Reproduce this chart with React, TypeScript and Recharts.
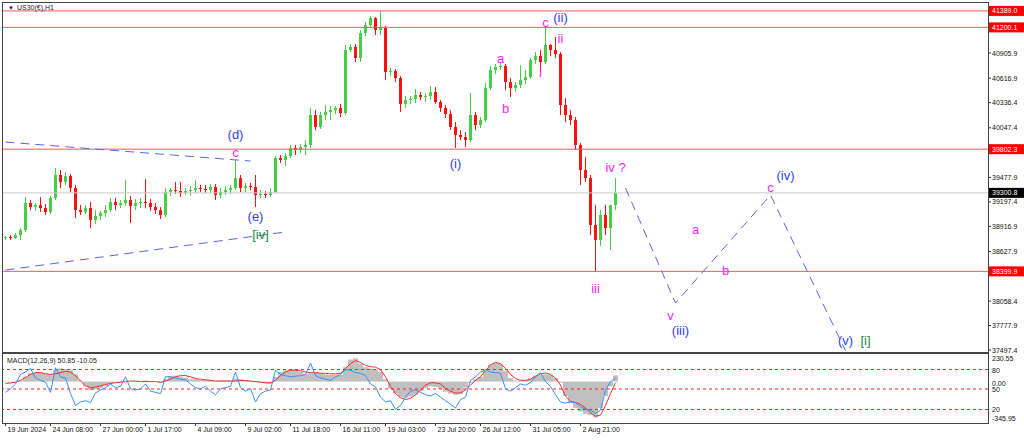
import React from 'react';
import { ComposedChart, Bar, Line, XAxis, YAxis, ReferenceLine, ReferenceDot } from 'recharts';

// US30 H1 candles, [open, high, low, close]
const candles: number[][] = [
  [38783, 38806, 38760, 38794], [38794, 38817, 38760, 38783], [38783, 38840, 38771, 38817], [38817, 38898, 38760, 38875],
  [38875, 39253, 38852, 39184], [39184, 39219, 39104, 39138], [39138, 39184, 39093, 39161], [39161, 39253, 39081, 39127],
  [39127, 39173, 39047, 39081], [39081, 39265, 39058, 39242], [39242, 39586, 39219, 39506], [39506, 39563, 39357, 39425],
  [39425, 39540, 39391, 39494], [39494, 39517, 39311, 39357], [39357, 39391, 39012, 39104], [39104, 39161, 39047, 39081],
  [39081, 39161, 39058, 39127], [39127, 39196, 38898, 38989], [38989, 39104, 38943, 39035], [39035, 39093, 38989, 39070],
  [39070, 39161, 39024, 39104], [39104, 39242, 39081, 39196], [39196, 39242, 39104, 39161], [39161, 39219, 39127, 39184],
  [39184, 39448, 39150, 39219], [39219, 39265, 38955, 39150], [39150, 39230, 39104, 39184], [39184, 39242, 39127, 39196],
  [39196, 39460, 39127, 39184], [39184, 39230, 39093, 39138], [39138, 39184, 39058, 39104], [39104, 39138, 39001, 39047],
  [39047, 39357, 39024, 39311], [39311, 39357, 39265, 39334], [39334, 39425, 39288, 39322], [39322, 39425, 39253, 39299],
  [39299, 39357, 39276, 39322], [39322, 39379, 39265, 39334], [39334, 39448, 39299, 39357], [39357, 39391, 39311, 39345],
  [39345, 39391, 39299, 39334], [39334, 39402, 39299, 39368], [39368, 39402, 39219, 39276], [39276, 39357, 39242, 39311],
  [39311, 39379, 39276, 39334], [39334, 39391, 39288, 39357], [39357, 39678, 39334, 39471], [39471, 39506, 39311, 39357],
  [39357, 39414, 39311, 39379], [39379, 39414, 39334, 39368], [39368, 39506, 39138, 39276], [39276, 39334, 39242, 39288],
  [39288, 39322, 39242, 39276], [39276, 39357, 39253, 39311], [39311, 39724, 39299, 39701], [39701, 39735, 39643, 39678],
  [39678, 39758, 39609, 39724], [39724, 39850, 39701, 39816], [39816, 39850, 39735, 39793], [39793, 39861, 39758, 39827],
  [39827, 39907, 39735, 39850], [39850, 40275, 39816, 40194], [40194, 40252, 40022, 40057], [40057, 40229, 40034, 40194],
  [40194, 40309, 40137, 40229], [40229, 40298, 40137, 40252], [40252, 40298, 40206, 40275], [40275, 40321, 40171, 40217],
  [40217, 40998, 40194, 40940], [40940, 41009, 40917, 40975], [40975, 41009, 40802, 40848], [40848, 41170, 40802, 41135],
  [41135, 41262, 41101, 41227], [41227, 41330, 41193, 41307], [41307, 41319, 41112, 41170], [41170, 41385, 41112, 41193],
  [41193, 41216, 40596, 40688], [40688, 40734, 40642, 40699], [40699, 40722, 40573, 40619], [40619, 40642, 40229, 40321],
  [40321, 40412, 40275, 40366], [40366, 40412, 40321, 40378], [40378, 40493, 40332, 40424], [40424, 40458, 40366, 40401],
  [40401, 40447, 40343, 40412], [40412, 40527, 40366, 40458], [40458, 40516, 40321, 40343], [40343, 40366, 40229, 40275],
  [40275, 40309, 40160, 40206], [40206, 40252, 40022, 40057], [40057, 40114, 39816, 39965], [39965, 40022, 39907, 39942],
  [39942, 39999, 39827, 39907], [39907, 40447, 39884, 40194], [40194, 40229, 40022, 40079], [40079, 40171, 40045, 40137],
  [40137, 40562, 40114, 40504], [40504, 40757, 40481, 40711], [40711, 40780, 40665, 40745], [40745, 40802, 40711, 40757],
  [40757, 40780, 40481, 40573], [40573, 40619, 40401, 40504], [40504, 40573, 40458, 40539], [40539, 40768, 40504, 40596],
  [40596, 40711, 40550, 40630], [40630, 40848, 40607, 40825], [40825, 40917, 40780, 40871], [40871, 40940, 40688, 40802],
  [40802, 41200, 40780, 40998], [40998, 41009, 40871, 40940], [40940, 41089, 40848, 40894], [40894, 40917, 40194, 40309],
  [40309, 40389, 40114, 40194], [40194, 40252, 40079, 40137], [40137, 40171, 39793, 39850], [39850, 39873, 39391, 39563],
  [39563, 39712, 39425, 39471], [39471, 39506, 38817, 38932], [38932, 39161, 38400, 38760], [38760, 39104, 38691, 39047],
  [39047, 39161, 38817, 38898], [38898, 39047, 38645, 39161], [39161, 39471, 39104, 39301]
];

// MACD(12,26,9) main (histogram), signal, and the blue fast line
const macdMain = [
  -5, -5, 0, 10, 40, 70, 75, 80, 65, 60, 95, 110, 105, 95, 60, 10, -40, -70, -65, -55,
  -35, -20, -10, -5, 5, 0, -5, 0, 10, 5, 0, -10, 20, 45, 50, 40, 30, 20, 20, 15,
  15, 15, 5, 10, 10, 10, 25, 20, 10, 5, -5, -10, -15, -15, 40, 80, 95, 100, 100, 80,
  65, 70, 80, 70, 60, 55, 55, 60, 120, 185, 195, 150, 120, 110, 100, 80, 20, -60, -100, -130,
  -135, -125, -110, -80, -55, -40, -45, -60, -85, -100, -110, -105, -50, -10, 20, 40, 90, 140, 155, 150,
  90, 30, 10, 5, 15, 25, 50, 55, 60, 55, 30, -10, -120, -180, -220, -250, -270, -280, -300, -220,
  -120, -40, 51
];
const macdSignal = [
  -15, -12, -5, 10, 35, 60, 75, 75, 65, 60, 65, 75, 85, 80, 50, 5, -35, -50, -45, -35,
  -25, -15, -10, -5, 0, 5, 5, 0, 0, 0, 0, -5, 5, 20, 40, 50, 50, 40, 25, 20,
  15, 10, 5, 5, 5, 5, 5, 10, 8, 5, 0, -5, -10, -12, 10, 50, 80, 95, 95, 90,
  80, 75, 75, 70, 68, 65, 65, 70, 110, 150, 175, 160, 135, 125, 120, 100, 40, -40, -100, -135,
  -150, -140, -110, -70, -30, -10, -10, -20, -55, -80, -95, -95, -70, -30, 10, 40, 90, 140, 160, 150,
  110, 60, 25, 10, 10, 20, 45, 65, 72, 60, 30, -30, -120, -165, -175, -190, -220, -260, -290, -280,
  -200, -100, -10
];
const macdFast = [
  -90, -60, -20, 60, 80, 110, 30, 10, -5, -90, 115, 40, 30, -100, -200, -170, -160, -175, -95, -70,
  -50, -20, -50, -40, 40, -60, -70, -60, -20, -80, -90, -100, 40, 40, 30, 20, 15, -20, -50, -60,
  -40, -80, -110, -60, -50, -40, 80, -50, -80, -60, -170, -100, -80, -70, 95, 60, 50, 40, 45, 50,
  60, 155, 50, 30, 20, 10, 40, 60, 100, 95, 75, 70, 50, -20, -45, -130, -170, -160, -230, -200,
  -130, -80, -70, -90, -110, -120, -100, -130, -160, -190, -220, -150, -130, 10, 40, 80, 100, 80, 75, 70,
  -60, -80, -50, -20, -30, -10, 40, 75, 0, -40, -110, -170, -180, -170, -175, -210, -230, -240, -265, -240,
  -70, 0, 30
];

const timeTicks = [0, 9, 19, 28, 38, 48, 57, 67, 76, 86, 95, 105, 115];
const timeLabels = [
  '19 Jun 2024', '24 Jun 08:00', '27 Jun 00:00', '1 Jul 17:00', '4 Jul 09:00', '9 Jul 02:00', '11 Jul 18:00',
  '16 Jul 11:00', '19 Jul 03:00', '23 Jul 20:00', '26 Jul 12:00', '31 Jul 05:00', '2 Aug 21:00'
];

const priceTicks = [40905.9, 40616.9, 40336.4, 40047.4, 39477.9, 39197.4, 38916.9, 38627.9, 38058.4, 37777.9, 37497.4];
const redLevels = [41389.0, 41200.1, 39802.3, 38399.9];
const lastPrice = 39300.8;

const macdTicks = [230.55, 101, 0, -62, -233, -345.95];
const macdTickLabels = ['230.55', '80', '0.00', '50', '20', '-345.95'];
const macdLevels = [101, -62, -233];

// projected wave path [bar slot, price]
const projection = [[124, 39357], [134, 38037], [153, 39276], [168, 37490]];
const upperTrend = [[0, 39884], [49, 39666]];
const lowerTrend = [[0, 38415], [56, 38852]];

const annotations = [
  { i: 46, price: 39976, text: '(d)', kind: 'wave' },
  { i: 46, price: 39770, text: 'c', kind: 'sub' },
  { i: 50, price: 39030, text: '(e)', kind: 'wave' },
  { i: 51, price: 38825, text: '[iv]', kind: 'major' },
  { i: 90, price: 39643, text: '(i)', kind: 'wave' },
  { i: 99, price: 40848, text: 'a', kind: 'sub' },
  { i: 100, price: 40275, text: 'b', kind: 'sub' },
  { i: 107, price: 40688, text: 'i', kind: 'sub' },
  { i: 108, price: 41262, text: 'c', kind: 'sub' },
  { i: 111, price: 41319, text: '(ii)', kind: 'wave' },
  { i: 111, price: 41078, text: 'ii', kind: 'sub' },
  { i: 122, price: 39598, text: 'iv ?', kind: 'sub' },
  { i: 118, price: 38209, text: 'iii', kind: 'sub' },
  { i: 138, price: 38886, text: 'a', kind: 'sub' },
  { i: 144, price: 38415, text: 'b', kind: 'sub' },
  { i: 133, price: 37899, text: 'v', kind: 'sub' },
  { i: 135, price: 37727, text: '(iii)', kind: 'wave' },
  { i: 153, price: 39368, text: 'c', kind: 'sub' },
  { i: 156, price: 39506, text: '(iv)', kind: 'wave' },
  { i: 168, price: 37612, text: '(v)', kind: 'wave' },
  { i: 172, price: 37612, text: '[i]', kind: 'major' }
];

const SLOTS = 197;
const KIND_COLORS: Record<string, string> = { wave: '#2f3fe6', sub: '#ff1cff', major: '#1f8a3c' };
const DASH_BLUE = '#5566ee';
const FONT = "'Liberation Sans', Arial, sans-serif";

const rows = Array.from({ length: SLOTS }, (_, i) => {
  const c = candles[i];
  const p = projection.find((q) => q[0] === i);
  return {
    i,
    open: c ? c[0] : null,
    high: c ? c[1] : null,
    low: c ? c[2] : null,
    close: c ? c[3] : null,
    range: c ? [c[2], c[1]] : null,
    proj: p ? p[1] : null,
    hist: i < macdMain.length ? macdMain[i] : null,
    signal: i < macdSignal.length ? macdSignal[i] : null,
    fast: i < macdFast.length ? macdFast[i] : null
  };
});

function Candle(props: any) {
  const { x, y, width, height, payload } = props;
  if (!payload || payload.high == null) return null;
  const top = Math.min(y, y + height);
  const h = Math.abs(height);
  const span = payload.high - payload.low || 1;
  const py = (v: number) => top + ((payload.high - v) / span) * h;
  const up = payload.close >= payload.open;
  const color = up ? '#46cf46' : '#ff1010';
  const cx = x + width / 2;
  const b1 = py(Math.max(payload.open, payload.close));
  const b2 = py(Math.min(payload.open, payload.close));
  return (
    <g>
      <line x1={cx} x2={cx} y1={top} y2={top + h} stroke={color} strokeWidth={1} />
      <rect x={cx - 1.5} y={b1} width={3} height={Math.max(1, b2 - b1)} fill={color} />
    </g>
  );
}

function PriceTick(props: any) {
  const { x, y, payload } = props;
  const v = payload.value;
  const label = v.toFixed(1);
  const isRed = redLevels.some((l) => Math.abs(l - v) < 0.01);
  const isLast = Math.abs(lastPrice - v) < 0.01;
  if (isRed || isLast) {
    return (
      <g>
        <rect x={x - 3} y={y - 5} width={35} height={10} fill={isRed ? '#ff0000' : '#000000'} />
        <text x={x} y={y} dy={2.5} fontSize={7} fill="#ffffff" fontFamily={FONT}>{label}</text>
      </g>
    );
  }
  return <text x={x} y={y} dy={2.5} fontSize={7} fill="#111" fontFamily={FONT}>{label}</text>;
}

function MacdTick(props: any) {
  const { x, y, payload } = props;
  const idx = macdTicks.indexOf(payload.value);
  const dy = idx === 0 ? 7 : idx === macdTicks.length - 1 ? -2 : idx === 2 ? 4 : 3;
  return <text x={x} y={y} dy={dy} fontSize={7} fill="#111" fontFamily={FONT}>{macdTickLabels[idx]}</text>;
}

function TimeTick(props: any) {
  const { x, y, payload } = props;
  const idx = timeTicks.indexOf(payload.value);
  return (
    <g>
      <line x1={x} x2={x} y1={y} y2={y + 3} stroke="#333" />
      <text x={x + 2} y={y + 9} fontSize={7} fill="#111" fontFamily={FONT}>{timeLabels[idx]}</text>
    </g>
  );
}

export default function App() {
  return (
    <div style={{ position: 'absolute', left: 0, top: 0, width: 1024, height: 441, background: '#fff', overflow: 'hidden', fontFamily: FONT }}>
      <div style={{ position: 'absolute', left: 0, top: 352 }}>
        <ComposedChart width={1024} height={89} data={rows} margin={{ top: 2, right: 0, bottom: 0, left: 3 }} barCategoryGap={0} barGap={0}>
          <XAxis dataKey="i" type="category" ticks={timeTicks} interval={0} height={18} axisLine={false} tickLine={false} tickSize={0} tickMargin={0} tick={<TimeTick />} />
          <YAxis
            orientation="right"
            type="number"
            width={36}
            domain={[-345.95, 230.55]}
            allowDataOverflow
            ticks={macdTicks}
            interval={0}
            tick={<MacdTick />}
            tickSize={2}
            tickMargin={2}
            tickLine={false}
            axisLine={false}
          />
          <Bar dataKey="hist" fill="#c0c0c0" isAnimationActive={false} />
          {macdLevels.map((v) => (
            <ReferenceLine key={v} y={v} stroke="#ff2020" strokeDasharray="3 3" />
          ))}
          <Line dataKey="signal" stroke="#ff2a2a" strokeWidth={1} dot={false} isAnimationActive={false} />
          <Line dataKey="fast" stroke="#3391ff" strokeWidth={1} dot={false} isAnimationActive={false} />
        </ComposedChart>
      </div>
      <div style={{ position: 'absolute', left: 0, top: 0 }}>
        <ComposedChart width={1024} height={357} data={rows} margin={{ top: 3, right: 0, bottom: 6, left: 3 }} barCategoryGap={0} barGap={0}>
          <XAxis dataKey="i" type="category" hide />
          <YAxis
            orientation="right"
            type="number"
            width={36}
            domain={[37486, 41480]}
            allowDataOverflow
            ticks={[...priceTicks, lastPrice, ...redLevels]}
            interval={0}
            tick={<PriceTick />}
            tickSize={3}
            tickMargin={1}
            tickLine={{ stroke: '#333' }}
            axisLine={false}
          />
          {redLevels.map((v) => (
            <ReferenceLine key={v} y={v} stroke="#f25a5a" strokeWidth={1} />
          ))}
          <ReferenceLine y={lastPrice} stroke="#c8c8c8" strokeWidth={1} />
          <ReferenceLine
            segment={[{ x: upperTrend[0][0], y: upperTrend[0][1] }, { x: upperTrend[1][0], y: upperTrend[1][1] }]}
            stroke={DASH_BLUE}
            strokeDasharray="9 6"
          />
          <ReferenceLine
            segment={[{ x: lowerTrend[0][0], y: lowerTrend[0][1] }, { x: lowerTrend[1][0], y: lowerTrend[1][1] }]}
            stroke={DASH_BLUE}
            strokeDasharray="9 6"
          />
          <Bar dataKey="range" shape={(p: any) => <Candle {...p} />} isAnimationActive={false} />
          <Line dataKey="proj" connectNulls stroke={DASH_BLUE} strokeDasharray="9 6" strokeWidth={1} dot={false} isAnimationActive={false} />
          {annotations.map((a, k) => (
            <ReferenceDot
              key={k}
              x={a.i}
              y={a.price}
              r={0}
              fill="none"
              stroke="none"
              label={{ value: a.text, position: 'center', fill: KIND_COLORS[a.kind], fontSize: 13, fontFamily: FONT }}
            />
          ))}
        </ComposedChart>
      </div>
      <div style={{ position: 'absolute', left: 2, top: 2, width: 987, height: 351, boxSizing: 'border-box', border: '1px solid #444', pointerEvents: 'none' }} />
      <div style={{ position: 'absolute', left: 2, top: 353, width: 987, height: 71, boxSizing: 'border-box', border: '1px solid #444', pointerEvents: 'none' }} />
      <div style={{ position: 'absolute', left: 8, top: 4, fontSize: 7, color: '#222', whiteSpace: 'nowrap', lineHeight: '8px' }}>
        <span style={{ fontSize: 6, marginRight: 3 }}>▼</span>US30(€),H1
      </div>
      <div style={{ position: 'absolute', left: 7, top: 357, fontSize: 7, color: '#222', whiteSpace: 'nowrap', lineHeight: '8px' }}>
        MACD(12,26,9) 50.85 -10.05
      </div>
    </div>
  );
}
